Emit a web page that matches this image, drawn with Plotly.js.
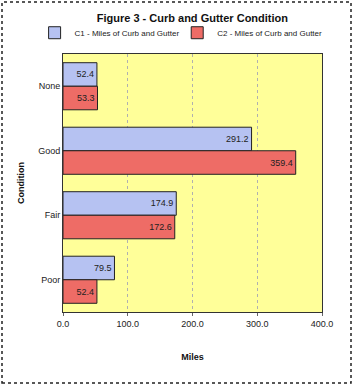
<!DOCTYPE html>
<html><head><meta charset="utf-8">
<script src="https://cdn.plot.ly/plotly-3.0.1.min.js"></script>
<style>html,body{margin:0;padding:0;background:#fff}#chart{width:353px;height:385px}</style>
</head><body><div id="chart"></div>
<script>
const categories = ['None', 'Good', 'Fair', 'Poor'];
const c1Values = [52.4, 291.2, 174.9, 79.5];
const c2Values = [53.3, 359.4, 172.6, 52.4];
const seriesNames = ['C1 - Miles of Curb and Gutter', 'C2 - Miles of Curb and Gutter'];
const xTicks = [0, 100, 200, 300, 400];

const common = {
  type: 'bar', orientation: 'h', y: categories,
  texttemplate: '%{x:.1f}', textposition: 'inside', insidetextanchor: 'end',
  textfont: {family: 'Arial, Liberation Sans, sans-serif', size: 9, color: '#222'},
  hoverinfo: 'none', cliponaxis: false
};
const traces = [
  Object.assign({}, common, {x: c1Values, name: seriesNames[0], legend: 'legend',
    marker: {color: '#B6C2F2', line: {color: '#222', width: 1}}}),
  Object.assign({}, common, {x: c2Values, name: seriesNames[1], legend: 'legend2',
    marker: {color: '#EE6C66', line: {color: '#222', width: 1}}})
];
const font = 'Arial, Liberation Sans, sans-serif';
const legendBase = {orientation: 'h', xref: 'container', yref: 'container', xanchor: 'left',
  y: 0.915, yanchor: 'middle', font: {family: font, size: 8, color: '#222'}, itemwidth: 30,
  bgcolor: 'rgba(0,0,0,0)', borderwidth: 0};
const layout = {
  width: 353, height: 385,
  margin: {l: 63, r: 31, t: 54, b: 73},
  paper_bgcolor: '#fff', plot_bgcolor: '#FFFF99',
  barmode: 'group', bargap: 0.27, bargroupgap: 0,
  font: {family: font, size: 9, color: '#222'},
  title: {text: '<b>Figure 3 - Curb and Gutter Condition</b>', font: {family: font, size: 11, color: '#111'},
    x: 0.545, xanchor: 'center', y: 0.953, yanchor: 'middle'},
  showlegend: true,
  legend: Object.assign({}, legendBase, {x: 0.098}),
  legend2: Object.assign({}, legendBase, {x: 0.502}),
  xaxis: {range: [0, 400], tickvals: xTicks, tickformat: '.1f', showgrid: true,
    gridcolor: '#b0b0b0', griddash: 'dot', gridwidth: 1, zeroline: false,
    ticks: 'outside', ticklen: 3, tickcolor: '#666',
    showline: true, linecolor: '#333', mirror: true, linewidth: 1,
    tickfont: {family: font, size: 9, color: '#222'},
    title: {text: '<b>Miles</b>', font: {family: font, size: 9, color: '#111'}, standoff: 25}},
  yaxis: {type: 'category', categoryorder: 'array', categoryarray: categories,
    autorange: 'reversed', showgrid: false, zeroline: false,
    showline: true, linecolor: '#333', mirror: true, linewidth: 1,
    ticks: '', tickfont: {family: font, size: 9, color: '#222'},
    title: {text: '<b>Condition</b>', font: {family: font, size: 9, color: '#111'}, standoff: 12}},
  shapes: [{type: 'rect', xref: 'paper', yref: 'paper',
    x0: (2 - 63) / 259, x1: (351 - 63) / 259, y0: (312 - 383) / 258, y1: (312 - 2) / 258,
    line: {color: '#222', width: 1.5, dash: 'dot'}, fillcolor: 'rgba(0,0,0,0)', layer: 'above'}]
};
Plotly.newPlot('chart', traces, layout, {displayModeBar: false, staticPlot: true});
</script></body></html>
